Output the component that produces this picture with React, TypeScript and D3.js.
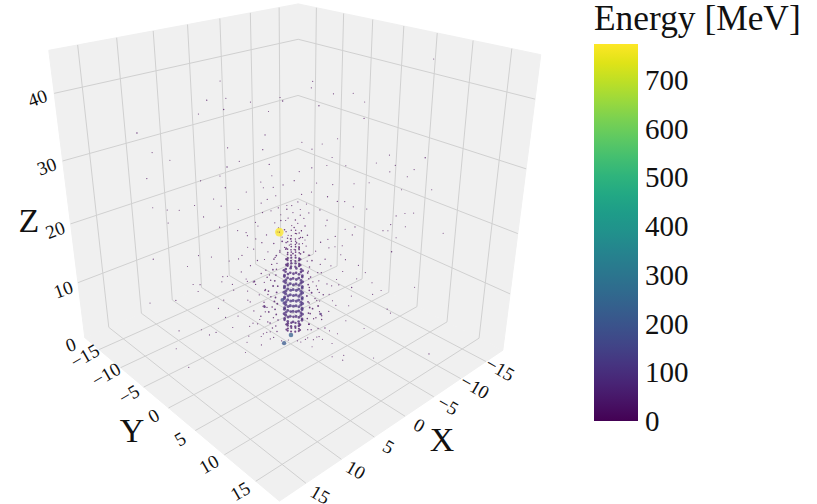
import React from 'react';
import * as d3 from 'd3';

// Axis ticks and ranges
const xyTicks = [-15, -10, -5, 0, 5, 10, 15];
const zTicks = [10, 20, 30, 40];
const zLabelTicks = [0, 10, 20, 30, 40];
const energyTicks = [0, 100, 200, 300, 400, 500, 600, 700];
const xyDomain = [-18.5, 18.5];
const zDomain = [0, 46];
const energyMax = 774;

// Box corners as seen in the picture: [x side, y side, z side, screen x, screen y]
const boxCorners = [
  [1, 0, 0, 85, 338],
  [1, 1, 0, 279, 501],
  [0, 1, 0, 503, 350],
  [0, 0, 0, 297.6, 246],
  [1, 0, 1, 49, 50],
  [0, 0, 1, 298, 4],
  [0, 1, 1, 541, 55],
];

// Central shower: rings of hits, one row per layer
const ringZ = [2.6, 3.55, 4.5, 5.45, 6.4, 7.35, 8.3, 9.25, 10.2, 11.15, 12.1, 13.05, 14, 14.95, 15.9, 16.8, 17.7, 18.6, 19.5];
const ringE = [40, 55, 70, 85, 95, 100, 100, 100, 95, 90, 80, 70, 55, 45, 22, 20, 16, 12, 10];
const ringX = [
  [-0.83, -0.54, -0.13, 0.23, 0.42, 0.37, 0.07, -0.33, -0.7, -0.9],
  [-0.83, -0.54, -0.13, 0.23, 0.42, 0.37, 0.07, -0.33, -0.7, -0.9],
  [-0.87, -0.38, 0.17, 0.56, 0.65, 0.4, -0.09, -0.63, -1.03, -1.12],
  [-1.03, -0.65, -0.1, 0.39, 0.65, 0.57, 0.18, -0.37, -0.86, -1.12],
  [-0.87, -0.38, 0.17, 0.56, 0.65, 0.4, -0.09, -0.63, -1.03, -1.12],
  [-1.03, -0.65, -0.1, 0.39, 0.65, 0.57, 0.18, -0.37, -0.86, -1.12],
  [-0.87, -0.38, 0.17, 0.56, 0.65, 0.4, -0.09, -0.63, -1.03, -1.12],
  [-1.03, -0.65, -0.1, 0.39, 0.65, 0.57, 0.18, -0.37, -0.86, -1.12],
  [-0.87, -0.38, 0.17, 0.56, 0.65, 0.4, -0.09, -0.63, -1.03, -1.12],
  [-1.03, -0.65, -0.1, 0.39, 0.65, 0.57, 0.18, -0.37, -0.86, -1.12],
  [-0.87, -0.38, 0.17, 0.56, 0.65, 0.4, -0.09, -0.63, -1.03, -1.12],
  [-1.03, -0.65, -0.1, 0.39, 0.65, 0.57, 0.18, -0.37, -0.86, -1.12],
  [-0.83, -0.54, -0.13, 0.23, 0.42, 0.37, 0.07, -0.33, -0.7, -0.9],
  [-0.83, -0.54, -0.13, 0.23, 0.42, 0.37, 0.07, -0.33, -0.7, -0.9],
  [-0.83, -0.13, 0.42, 0.07, -0.7, -0.9, -0.33, 0.23],
  [-0.54, 0.23, 0.37, -0.33, -0.9, -0.13, 0.42, -0.7],
  [-0.7, -0.13, 0.37, 0.07, -0.54, -0.33, 0.23],
  [-0.54, 0.23, 0.42, -0.33, -0.83, -0.13],
  [-0.7, -0.13, 0.37, -0.33, -0.54],
];
const ringY = [
  [0.83, 0.9, 0.7, 0.33, -0.07, -0.37, -0.42, -0.23, 0.13, 0.54],
  [0.83, 0.9, 0.7, 0.33, -0.07, -0.37, -0.42, -0.23, 0.13, 0.54],
  [1.12, 1.03, 0.63, 0.09, -0.4, -0.65, -0.56, -0.17, 0.38, 0.87],
  [1.03, 1.12, 0.86, 0.37, -0.18, -0.57, -0.65, -0.39, 0.1, 0.65],
  [1.12, 1.03, 0.63, 0.09, -0.4, -0.65, -0.56, -0.17, 0.38, 0.87],
  [1.03, 1.12, 0.86, 0.37, -0.18, -0.57, -0.65, -0.39, 0.1, 0.65],
  [1.12, 1.03, 0.63, 0.09, -0.4, -0.65, -0.56, -0.17, 0.38, 0.87],
  [1.03, 1.12, 0.86, 0.37, -0.18, -0.57, -0.65, -0.39, 0.1, 0.65],
  [1.12, 1.03, 0.63, 0.09, -0.4, -0.65, -0.56, -0.17, 0.38, 0.87],
  [1.03, 1.12, 0.86, 0.37, -0.18, -0.57, -0.65, -0.39, 0.1, 0.65],
  [1.12, 1.03, 0.63, 0.09, -0.4, -0.65, -0.56, -0.17, 0.38, 0.87],
  [1.03, 1.12, 0.86, 0.37, -0.18, -0.57, -0.65, -0.39, 0.1, 0.65],
  [0.83, 0.9, 0.7, 0.33, -0.07, -0.37, -0.42, -0.23, 0.13, 0.54],
  [0.83, 0.9, 0.7, 0.33, -0.07, -0.37, -0.42, -0.23, 0.13, 0.54],
  [0.83, 0.7, -0.07, -0.42, 0.13, 0.54, -0.23, 0.33],
  [0.9, 0.33, -0.37, -0.23, 0.54, 0.7, -0.07, 0.13],
  [0.13, 0.7, -0.37, -0.42, 0.9, -0.23, 0.33],
  [0.9, 0.33, -0.07, -0.23, 0.83, 0.7],
  [0.13, 0.7, -0.37, -0.23, 0.9],
];

// Loose hits around the shower axis
const haloY = [
  -1.6, -1.8, -1.5, -1.9, -1.6, -1.4, -1.7, -1.9, -1.5, -1.7, -1.8, -1.5, -1.6, -1.4,
  1.8, 1.6, 2, 1.7, 1.9, 1.6, 2.1, 1.8, 1.6, 1.9, 1.7, 1.5, 1.8, 1.6,
  -2.4, -2.9, -2.6, -3.2, -2.3, -3.5, -2.7, -2.2, -3, -3.8, -2.5, -3.4, -2.8, -4.1, -3.1, -2.4, -3.6, -4.4, -2.9, -2.3,
  2.5, 3, 2.7, 3.3, 2.4, 3.6, 2.8, 2.3, 3.1, 3.9, 2.6, 3.4, 2.9, 4.2, 3.2, 2.5, 3.7, 4.5, 3, 2.4,
  -1.2, -0.9, -0.4, 0.2, 0.7, 1.1, 1.3, -1.4, -0.7, 0, 0.5, 1, 1.4, -1.1, -0.5, 0.3, 0.9, 1.2, -1.3, -0.8,
  -0.2, 0.4, 0.8, 1.5, -1.6, -1, -0.3, 0.1, 0.6, 1.3, -1.9, -1.2, 0.9, 1.7, -2.2, -0.6, 0.3, 2.1, -1.5, 0.7,
  -1.2, -1.3, -1.1, -1.25, -1.35, -1.15, -1.3, -1.2, -1.1, -1.35, -1.25, -1.2, -1.15, -1.3,
  1.5, 1.6, 1.45, 1.55, 1.65, 1.5, 1.4, 1.6, 1.5, 1.55, 1.45, 1.6, 1.4, 1.5,
  -2.1, -2, -2.2, -2.05, -2.3, -1.95, -2.15, -2.25, -2, -2.1, -2.2, -1.9,
  2.3, 2.4, 2.2, 2.5, 2.35, 2.25, 2.45, 2.2, 2.4, 2.3, 2.5, 2.1,
  -0.9, -0.5, -0.1, 0.3, 0.7, 1, 1.2, -0.7, -0.2, 0.5, 0.9, -1, 0.1, 0.6, -0.4, 1.1, -0.8, 0.2, 0.8, -0.3,
  -1.8, -0.8, 0.6, 1.3, 2.8, -2.6, -3.3, 3.4, -0.2, 0.9, -1.5, 2,
  -4.6, -3.7, -4.9, -3.2, -5.4, -4.2, 4.8, 3.9, 5.2, 3.5, 5.6, 4.4, -4.4, -3.6, 4.6, 3.7, -2.9, 3.1, -2.7, 2.9,
];
const haloX = [
  1.6, 1.8, 1.5, 1.9, 1.6, 1.4, 1.7, 1.9, 1.5, 1.7, 1.8, 1.5, 1.6, 1.4,
  -1.8, -1.6, -2, -1.7, -1.9, -1.6, -2.1, -1.8, -1.6, -1.9, -1.7, -1.5, -1.8, -1.6,
  2.4, 2.9, 2.6, 3.2, 2.3, 3.5, 2.7, 2.2, 3, 3.8, 2.5, 3.4, 2.8, 4.1, 3.1, 2.4, 3.6, 4.4, 2.9, 2.3,
  -2.5, -3, -2.7, -3.3, -2.4, -3.6, -2.8, -2.3, -3.1, -3.9, -2.6, -3.4, -2.9, -4.2, -3.2, -2.5, -3.7, -4.5, -3, -2.4,
  1.2, 0.9, 0.4, -0.2, -0.7, -1.1, -1.3, 1.4, 0.7, 0, -0.5, -1, -1.4, 1.1, 0.5, -0.3, -0.9, -1.2, 1.3, 0.8,
  0.2, -0.4, -0.8, -1.5, 1.6, 1, 0.3, -0.1, -0.6, -1.3, 1.9, 1.2, -0.9, -1.7, 2.2, 0.6, -0.3, -2.1, 1.5, -0.7,
  1.2, 1.3, 1.1, 1.25, 1.35, 1.15, 1.3, 1.2, 1.1, 1.35, 1.25, 1.2, 1.15, 1.3,
  -1.5, -1.6, -1.45, -1.55, -1.65, -1.5, -1.4, -1.6, -1.5, -1.55, -1.45, -1.6, -1.4, -1.5,
  2.1, 2, 2.2, 2.05, 2.3, 1.95, 2.15, 2.25, 2, 2.1, 2.2, 1.9,
  -2.3, -2.4, -2.2, -2.5, -2.35, -2.25, -2.45, -2.2, -2.4, -2.3, -2.5, -2.1,
  0.9, 0.5, 0.1, -0.3, -0.7, -1, -1.2, 0.7, 0.2, -0.5, -0.9, 1, -0.1, -0.6, 0.4, -1.1, 0.8, -0.2, -0.8, 0.3,
  1.8, 0.8, -0.6, -1.3, -2.8, 2.6, 3.3, -3.4, 0.2, -0.9, 1.5, -2,
  4.6, 3.7, 4.9, 3.2, 5.4, 4.2, -4.8, -3.9, -5.2, -3.5, -5.6, -4.4, 4.4, 3.6, -4.6, -3.7, 2.9, -3.1, 2.7, -2.9,
];
const haloZ = [
  2.8, 3.7, 4.7, 5.7, 6.6, 7.6, 8.4, 9.4, 10.3, 11.3, 12.2, 13.1, 14, 14.9,
  2.7, 3.7, 4.7, 5.6, 6.5, 7.5, 8.3, 9.3, 10.2, 11.2, 12, 13, 14.8, 15.7,
  1.7, 3.5, 4.9, 5.8, 6.8, 7.4, 8.7, 9.5, 10.5, 11.4, 12.4, 13.7, 14.6, 15.4, 16.5, 17.6, 18.7, 19.5, 20.9, 22.5,
  1.5, 3.1, 4.6, 6.1, 7, 8, 9, 9.9, 10.9, 11.7, 12.8, 14, 15.1, 15.9, 17, 17.9, 18.9, 20.1, 21.5, 23.1,
  15.5, 16.1, 16.6, 15.9, 16.8, 16.2, 17.2, 17.5, 17.9, 18.3, 17.7, 18.6, 19, 19.4, 19.8, 20.2, 19.7, 20.5, 20.9, 21.3,
  21.7, 21.4, 22.2, 22.6, 22.8, 23.3, 23.1, 23.7, 24.3, 24, 24.6, 25.2, 25.5, 25.9, 26.4, 26.9, 27.6, 27.3, 28.3, 29,
  2.2, 3.2, 4.3, 5.3, 6.2, 7.2, 8.3, 9.2, 10.3, 11.2, 12.2, 13.2, 14.2, 15.2,
  2.7, 3.7, 4.7, 5.7, 6.7, 7.7, 8.7, 9.7, 10.7, 11.7, 12.7, 13.7, 14.7, 15.7,
  2, 3.9, 5.7, 6.5, 7.4, 8.8, 9.7, 10.9, 11.8, 13, 14.8, 16.1,
  1.4, 3, 4.9, 6, 7, 8, 9.4, 10.5, 11.4, 12.8, 14.2, 16.4,
  16.4, 16.9, 17.3, 16.6, 17.1, 17.6, 18.2, 18.6, 18.9, 19.2, 19.7, 20.1, 20.5, 20.9, 21.3, 21.7, 22.2, 22.6, 23.1, 23.7,
  0.8, 0.5, 0.6, 0.9, 1, 1.2, 3.6, 2.6, 0.7, 0.4, 1.1, 0.9,
  4.8, 7.7, 9.4, 10.9, 11.8, 12.6, 4.5, 7.2, 8.9, 10.6, 11.9, 13.1, 14.8, 16.8, 15.1, 17.2, 18.2, 18.4, 20.3, 20.6,
];
const haloE = [
  12, 18, 9, 22, 14, 26, 11, 19, 30, 13, 8, 21, 10, 16,
  10, 20, 8, 16, 24, 12, 9, 28, 15, 7, 18, 11, 14, 9,
  6, 9, 14, 5, 11, 4, 8, 18, 6, 3, 10, 5, 7, 3, 6, 8, 4, 3, 5, 7,
  5, 8, 12, 4, 10, 3, 16, 9, 5, 3, 7, 4, 8, 3, 5, 9, 3, 2, 5, 6,
  22, 14, 18, 26, 12, 20, 9, 11, 24, 16, 20, 8, 13, 9, 18, 14, 7, 12, 6, 10,
  7, 12, 5, 4, 3, 8, 10, 6, 4, 3, 2, 5, 6, 2, 2, 4, 6, 3, 2, 3,
  9, 14, 18, 22, 26, 30, 24, 28, 20, 26, 18, 14, 10, 8,
  8, 12, 16, 20, 24, 22, 28, 18, 24, 16, 20, 12, 10, 7,
  5, 8, 10, 6, 12, 9, 5, 7, 11, 6, 4, 3,
  4, 6, 9, 5, 11, 7, 10, 5, 8, 6, 3, 3,
  6, 5, 8, 4, 7, 5, 3, 6, 4, 5, 3, 4, 3, 5, 2, 3, 2, 3, 2, 2,
  3, 6, 5, 3, 2, 3, 3, 2, 4, 3, 4, 2,
  3, 2, 2, 4, 2, 3, 2, 3, 2, 4, 2, 3, 3, 2, 2, 2, 2, 3, 2, 2,
];

// Sparse hits filling the rest of the box
const sparseY = [
  -12.2, -6.5, -5.4, -5.2, -5, -7.2, -11.1, -9.7, -11.7, -7.3, -5, -5.1, -4.1, -2.2, -2, -0.6, -0.8, -3.1, -1.7,
  -5.3, -5.7, -6.3, -7.9, -9.2, -10.2, -10.2, -11.4, -7.2, -5.7, -3.6, -2.4, -1.7, -1.4, -2.4, -4.3, -3.7, -2, -5.9,
  10.7, 1.7, 1.6, 3.3, 4.8, 5.7, 2.2, 5.7, 10.6, 7.8, 8.3, 6.8, 7.9, 9.8, 9.3, 11.3, 8.9, 6.3, 5.1, 1.7, 2.9, 4.4, 3.3, 3.7, 2.5, 0.9, 1.7,
  3.4, 3, 3.8, 4.4, 5.1, 6.2, 8.6, 9.3, 10, 8.2, 9.4, 8, 7.6, 8.7, 12.5, 5.3, 5.1, 4.3, 8.4,
  -11.7, -7.8, -8.8, -6.7, -10, -12.3, -8.4, -7.8, -8, -5.8, -5.9, -5.8, -5, -6.3, -5.7, -9.9, -7.2, -6.6, -7.9, -5.1, -3.7, -2.7, -3.6,
  -8.45, -4.4, -2, -3.65, -1.8, -2.1, -5.2, -3.7, -2.4, -3.1, -3.7,
  5.7, 6.9, 6.3, 5.2, 7, 8.3, 7.7, 5, 10.5, 8.6, 13.05, 5.55, 6.3, 6.9, 9.1, 3.65, 2.4, 4.1, 6.4, 2.7, 1.5, 3.3, 4.1, 2.5,
];
const sparseX = [
  12.2, 6.5, 5.4, 5.2, 5, 7.2, 11.1, 9.7, 11.7, 7.3, 5, 5.1, 4.1, 2.2, 2, 0.6, 0.8, 3.1, 1.7,
  5.3, 5.7, 6.3, 7.9, 9.2, 10.2, 10.2, 11.4, 7.2, 5.7, 3.6, 2.4, 1.7, 1.4, 2.4, 4.3, 3.7, 2, 5.9,
  -10.7, -1.7, -1.6, -3.3, -4.8, -5.7, -2.2, -5.7, -10.6, -7.8, -8.3, -6.8, -7.9, -9.8, -9.3, -11.3, -8.9, -6.3, -5.1, -1.7, -2.9, -4.4, -3.3, -3.7, -2.5, -0.9, -1.7,
  -3.4, -3, -3.8, -4.4, -5.1, -6.2, -8.6, -9.3, -10, -8.2, -9.4, -8, -7.6, -8.7, -12.5, -5.3, -5.1, -4.3, -8.4,
  11.7, 7.8, 8.8, 6.7, 10, 12.3, 8.4, 7.8, 8, 5.8, 5.9, 5.8, 5, 6.3, 5.7, 9.9, 7.2, 6.6, 7.9, 5.1, 3.7, 2.7, 3.6,
  11.45, 12.5, 3.1, 4.05, 1.8, 5.6, 5.2, 3.7, 2.4, 3.1, 3.7,
  -5.7, -6.9, -6.3, -5.2, -7, -8.3, -7.7, -5, -10.5, -8.6, -10.95, -1.75, -3, -2.2, -5.3, -3.65, -1.4, -4.1, -6.4, -2.7, -1.5, -3.3, -4.1, -2.5,
];
const sparseZ = [
  34.4, 39.3, 42, 38, 39.6, 37.3, 31.5, 30.4, 27.5, 27.3, 32.4, 29.5, 30.4, 32.2, 34.4, 39.3, 39.8, 39.1, 37.8,
  26.3, 28.1, 24.5, 23.4, 22.6, 22.6, 20.5, 22.9, 21.6, 23.4, 25.7, 27.3, 30, 26.5, 24, 22.9, 19.2, 18.9, 20,
  45.3, 42.1, 41.2, 40.4, 40.5, 39.3, 38.7, 37, 31.4, 31.7, 30.2, 30.5, 29.2, 29.6, 28.5, 26.6, 26.5, 27.5, 27.3, 29.6, 30, 30, 31.2, 34, 33.2, 33.4, 32.4,
  27.1, 25.2, 24.5, 24.5, 23.7, 23.4, 22.4, 22.8, 22.9, 21, 20.7, 20, 20, 18.9, 19.8, 20.5, 19.2, 17.4, 16.6,
  14.4, 15.2, 13.3, 15, 7.3, 6.7, 10.2, 10.2, 9, 11.7, 10.8, 7.6, 10.4, 6.1, 4.5, 1.8, 1.2, 1.7, 2.1, 2.7, 1.2, 4.3, 3,
  0.3, 0.2, 0.3, 0.3, 2.1, 0.3, 14.4, 9.3, 6.7, 11, 11,
  14.2, 11.3, 13, 10.4, 9.3, 6.8, 10, 7.2, 10.7, 6.1, 0.2, 0.2, 0.2, 0.2, 0.2, 0.3, 0.2, 2.1, 3.2, 5.3, 1.2, 9.1, 10.8, 7.9,
];
const sparseE = [
  14, 10, 2, 10, 4, 4, 2, 1, 5, 4, 6, 10, 3, 5, 5, 10, 3, 2, 1,
  8, 3, 3, 3, 3, 4, 3, 1, 3, 6, 2, 4, 6, 4, 4, 2, 5, 5, 3,
  1, 4, 2, 5, 1, 1, 8, 7, 10, 3, 4, 1, 3, 3, 3, 1, 1, 1, 2, 10, 1, 3, 2, 1, 1, 2, 2,
  3, 6, 5, 3, 3, 3, 3, 1, 1, 5, 2, 2, 2, 2, 1, 5, 3, 3, 10,
  6, 3, 1, 3, 4, 1, 3, 3, 3, 3, 3, 5, 2, 4, 3, 6, 3, 3, 1, 3, 3, 3, 2,
  1, 4, 3, 2, 4, 1, 3, 3, 3, 28, 4,
  5, 3, 2, 10, 4, 7, 2, 3, 1, 4, 6, 4, 3, 3, 1, 2, 1, 1, 1, 12, 3, 4, 6, 3,
];

// The few large deposits
const bigX = [0.93, 0.67, -0.03, 0.71, -2.6, 2.26, 0.93];
const bigY = [-0.93, -0.48, 0.03, -0.71, 2.6, -2.26, -0.93];
const bigZ = [19.4, 0.2, 1.65, 7.9, 5.6, 6.6, 19.4];
const bigE = [774, 210, 230, 160, 70, 60, 8];

// Fit a 3x4 projective camera to the box corners (normal equations, then elimination)
function fitCamera(corners: number[][]) {
  const rows: number[][] = [];
  const rhs: number[] = [];
  corners.forEach(([u, v, w, sx, sy]) => {
    rows.push([u, v, w, 1, 0, 0, 0, 0, -sx * u, -sx * v, -sx * w]);
    rhs.push(sx);
    rows.push([0, 0, 0, 0, u, v, w, 1, -sy * u, -sy * v, -sy * w]);
    rhs.push(sy);
  });
  const n = 11;
  const m = d3.range(n).map(i =>
    d3.range(n + 1).map(j =>
      j < n ? d3.sum(rows, r => r[i] * r[j]) + (i === j ? 1e-9 : 0) : d3.sum(rows, (r, k) => r[i] * rhs[k])
    )
  );
  for (let i = 0; i < n; i++) {
    let p = i;
    for (let k = i + 1; k < n; k++) if (Math.abs(m[k][i]) > Math.abs(m[p][i])) p = k;
    [m[i], m[p]] = [m[p], m[i]];
    for (let k = 0; k < n; k++) {
      if (k === i) continue;
      const f = m[k][i] / m[i][i];
      for (let j = i; j <= n; j++) m[k][j] -= f * m[i][j];
    }
  }
  return d3.range(n).map(i => m[i][n] / m[i][i]);
}

const cam = fitCamera(boxCorners);
const xUnit = d3.scaleLinear().domain(xyDomain).range([0, 1]);
const yUnit = d3.scaleLinear().domain(xyDomain).range([0, 1]);
const zUnit = d3.scaleLinear().domain(zDomain).range([0, 1]);

const project = (x: number, y: number, z: number): [number, number] => {
  const u = xUnit(x);
  const v = yUnit(y);
  const w = zUnit(z);
  const d = cam[8] * u + cam[9] * v + cam[10] * w + 1;
  return [
    (cam[0] * u + cam[1] * v + cam[2] * w + cam[3]) / d,
    (cam[4] * u + cam[5] * v + cam[6] * w + cam[7]) / d,
  ];
};

const [xyMin, xyMax] = xyDomain;
const [zMin, zMax] = zDomain;
const line = d3.line();
const seg = (a: number[], b: number[]) =>
  line([project(a[0], a[1], a[2]), project(b[0], b[1], b[2])]) as string;
const panel = (pts: number[][]) =>
  (line(pts.map(p => project(p[0], p[1], p[2]))) as string) + 'Z';

const radius = d3.scalePow().exponent(0.62).domain([0, energyMax]).range([0.45, 4.3]);
const color = (e: number) => d3.interpolateViridis(e / energyMax);
const barY = d3.scaleLinear().domain([0, energyMax]).range([421, 44]);

type Hit = { x: number; y: number; z: number; e: number };
const hits: Hit[] = [
  ...sparseE.map((e, i) => ({ x: sparseX[i], y: sparseY[i], z: sparseZ[i], e })),
  ...haloE.map((e, i) => ({ x: haloX[i], y: haloY[i], z: haloZ[i], e })),
  ...ringZ.flatMap((z, l) => ringX[l].map((x, i) => ({ x, y: ringY[l][i], z, e: ringE[l] }))),
  ...bigE.map((e, i) => ({ x: bigX[i], y: bigY[i], z: bigZ[i], e })),
];

const serif = '"Liberation Serif", serif';
const gridColor = '#d0d0d0';
const tickFmt = (v: number) => String(v).replace('-', '\u2212');

export default function App() {
  return (
    <svg width={817} height={504} style={{ position: 'absolute', left: 0, top: 0, background: '#fff' }} fontFamily={serif}>
      <defs>
        <linearGradient id="viridis" x1="0" x2="0" y1="1" y2="0">
          {d3.range(0, 1.001, 0.05).map(t => (
            <stop key={t} offset={t} stopColor={d3.interpolateViridis(t)} />
          ))}
        </linearGradient>
      </defs>

      {/* box panels */}
      <g fill="#f0f0f0" stroke="#f0f0f0">
        <path d={panel([[xyMax, xyMin, 0], [xyMax, xyMax, 0], [xyMin, xyMax, 0], [xyMin, xyMin, 0]])} />
        <path d={panel([[xyMax, xyMin, 0], [xyMin, xyMin, 0], [xyMin, xyMin, zMax], [xyMax, xyMin, zMax]])} />
        <path d={panel([[xyMin, xyMin, 0], [xyMin, xyMax, 0], [xyMin, xyMax, zMax], [xyMin, xyMin, zMax]])} />
      </g>

      {/* grid */}
      <g fill="none" stroke={gridColor} strokeWidth={1}>
        {xyTicks.map(t => (
          <g key={t}>
            <path d={seg([t, xyMin, zMin], [t, xyMax, zMin])} />
            <path d={seg([xyMin, t, zMin], [xyMax, t, zMin])} />
            <path d={seg([t, xyMin, zMin], [t, xyMin, zMax])} />
            <path d={seg([xyMin, t, zMin], [xyMin, t, zMax])} />
          </g>
        ))}
        {zTicks.map(t => (
          <g key={t}>
            <path d={seg([xyMax, xyMin, t], [xyMin, xyMin, t])} />
            <path d={seg([xyMin, xyMin, t], [xyMin, xyMax, t])} />
          </g>
        ))}
      </g>

      {/* hits */}
      <g>
        {hits.map((h, i) => {
          const [cx, cy] = project(h.x, h.y, h.z);
          return <circle key={i} cx={cx} cy={cy} r={radius(h.e)} fill={color(h.e)} fillOpacity={0.75} />;
        })}
      </g>

      {/* tick labels */}
      <g fontSize={19} fill="#111" textAnchor="middle" dominantBaseline="central">
        {zLabelTicks.map(t => {
          const [px, py] = project(xyMax + 2, xyMin, t);
          return <text key={t} transform={`translate(${px},${py + 1}) rotate(-20)`}>{t}</text>;
        })}
        {xyTicks.map(t => {
          const [px, py] = project(xyMax + 2, t, 0);
          return <text key={t} transform={`translate(${px},${py}) rotate(-30)`}>{tickFmt(t)}</text>;
        })}
        {xyTicks.map(t => {
          const [px, py] = project(t, xyMax + 2, 0);
          return <text key={t} transform={`translate(${px},${py}) rotate(30)`}>{tickFmt(t)}</text>;
        })}
      </g>

      {/* axis titles */}
      <g fontSize={34} fill="#111" textAnchor="middle">
        <text x={29} y={232}>Z</text>
        <text x={132} y={442}>Y</text>
        <text x={442} y={451}>X</text>
      </g>

      {/* colour bar */}
      <text x={594} y={30} fontSize={35.4} fill="#111">Energy [MeV]</text>
      <rect x={594} y={barY(energyMax)} width={44} height={barY(0) - barY(energyMax)} fill="url(#viridis)" />
      <g fontSize={29} fill="#111" dominantBaseline="central">
        {energyTicks.map(t => (
          <text key={t} x={645} y={barY(t)}>{t}</text>
        ))}
      </g>
    </svg>
  );
}
